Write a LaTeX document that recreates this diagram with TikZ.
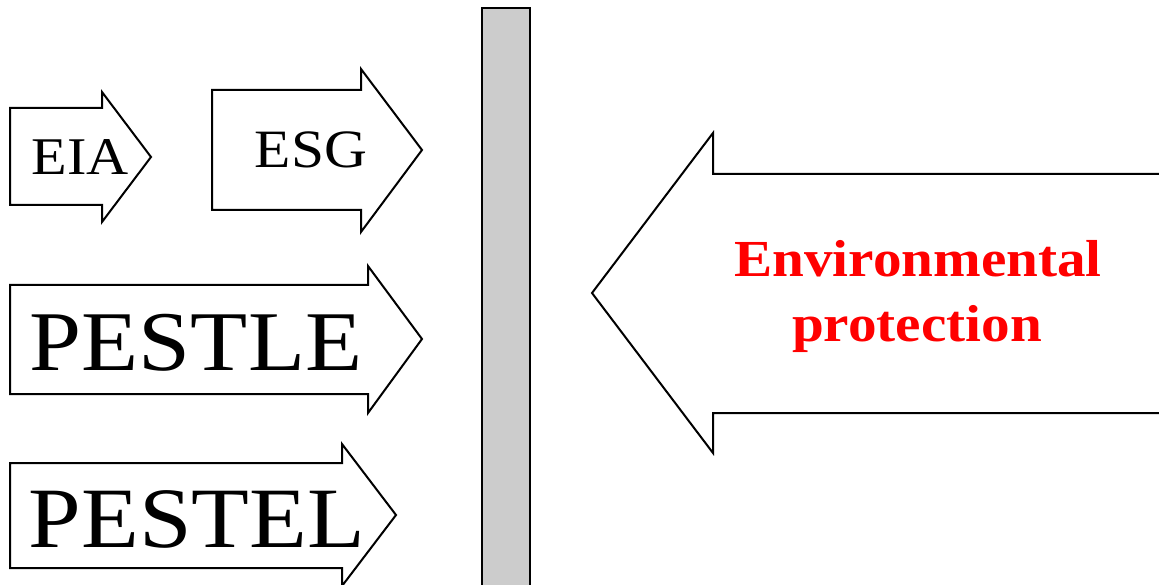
\documentclass[tikz,border=0pt]{standalone}
\usepackage{fontspec}
\setmainfont[FakeStretch=1.1]{Liberation Serif}
\begin{document}
\begin{tikzpicture}[x=1bp,y=-1bp,
  arrowline/.style={draw=black,line width=2bp,line join=miter,fill=white},
  lbl/.style={anchor=base,inner sep=0pt,text=black},
  redlbl/.style={anchor=base,inner sep=0pt,text=red,font=\bfseries\fontsize{52bp}{60bp}\selectfont}]
\useasboundingbox (0,0) rectangle (1159,585);
\clip (0,0) rectangle (1159,585);
% EIA arrow
\draw[arrowline] (10,108) -- (102,108) -- (102,92) -- (151,157) -- (102,222) -- (102,205) -- (10,205) -- cycle;
\node[lbl,font=\fontsize{53bp}{60bp}\selectfont] (eia) at (80.5,175) {EIA};
% ESG arrow
\draw[arrowline] (212,90) -- (361,90) -- (361,69) -- (422,150) -- (361,232) -- (361,210) -- (212,210) -- cycle;
\node[lbl,font=\fontsize{54bp}{60bp}\selectfont] (esg) at (311,168) {ESG};
% PESTLE arrow
\draw[arrowline] (10,285) -- (368,285) -- (368,266) -- (422,339) -- (368,413) -- (368,394) -- (10,394) -- cycle;
\node[lbl,font=\fontsize{85bp}{90bp}\selectfont] (pestle) at (196,370) {PESTLE};
% PESTEL arrow
\draw[arrowline] (10,463) -- (342,463) -- (342,444) -- (396,515) -- (342,586) -- (342,568) -- (10,568) -- cycle;
\node[lbl,font=\fontsize{86bp}{90bp}\selectfont] (pestel) at (197,547) {PESTEL};
% gray bar
\draw[line width=2.2bp,fill=black!20] (482,8) rectangle (530,600);
% big left arrow
\draw[arrowline] (1170,174) -- (713,174) -- (713,133) -- (592,293) -- (713,453) -- (713,413) -- (1170,413);
\node[redlbl] (env) at (918,277) {Environmental};
\node[redlbl] (prot) at (917,342) {protection};
\end{tikzpicture}
\end{document}
